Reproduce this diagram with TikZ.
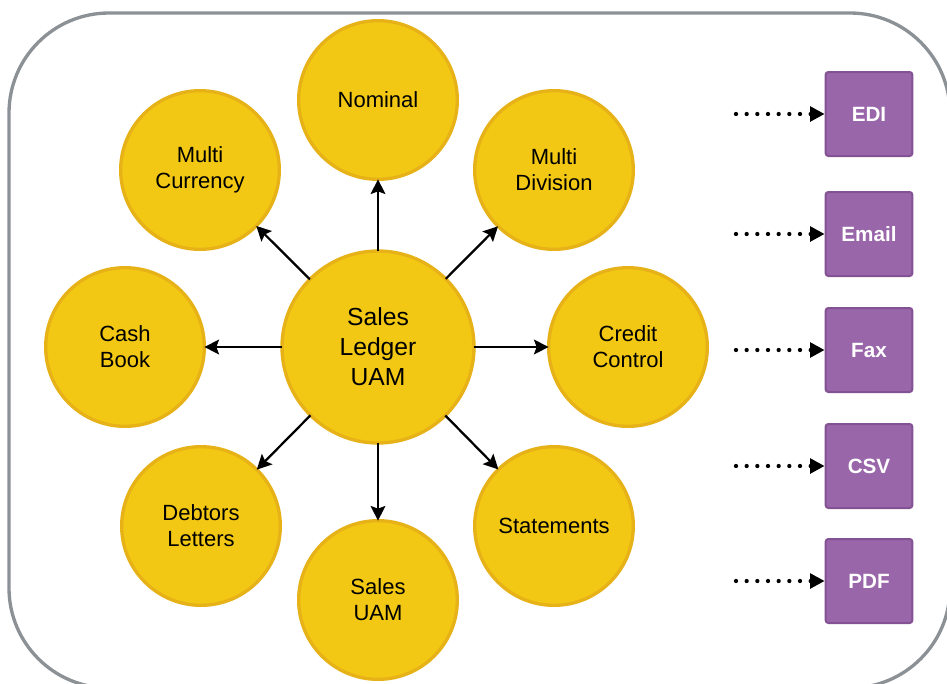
\documentclass[tikz,border=0pt]{standalone}
\usepackage{fontspec}
\setmainfont{Liberation Sans}
\usepackage{tikz}
\usetikzlibrary{arrows.meta,shapes,positioning}
\usepackage{xcolor}

\definecolor{gold}{RGB}{242,200,20}
\definecolor{goldrim}{RGB}{230,178,24}
\definecolor{plum}{RGB}{154,102,170}
\definecolor{plumrim}{RGB}{130,82,146}
\definecolor{frame}{RGB}{140,145,150}

\begin{document}
\begin{tikzpicture}[x=0.75pt, y=-0.75pt,
    hub/.style={circle, fill=gold, draw=goldrim, line width=2.5pt, minimum size=144pt, inner sep=0pt, outer sep=0pt, align=center, font=\fontsize{18.5}{22.5}\selectfont},
    module/.style={circle, fill=gold, draw=goldrim, line width=2.5pt, minimum size=119pt, inner sep=0pt, outer sep=0pt, align=center, font=\fontsize{16.5}{19.5}\selectfont},
    outbox/.style={draw=plumrim, line width=1.5pt, fill=plum, rounded corners=2pt, minimum width=65pt, minimum height=63pt, text=white, font=\fontsize{15.5}{18}\selectfont\bfseries},
    link/.style={-{Stealth[length=11pt, width=11pt, inset=2pt]}, line width=1.7pt},
    feed/.style={-{Triangle[length=11pt, width=11pt]}, line width=3.2pt, line cap=round, dash pattern=on 0pt off 8pt}]
    \clip (0,0) rectangle (947,683);

    % Frame
    \draw[frame, line width=2.5pt, rounded corners=75pt] (9,13) rectangle (950,688);

    % Hub
    \node[hub] (ledger) at (378,347) {Sales\\Ledger\\UAM};

    % Modules
    \node[module] (nominal) at (378,100) {Nominal};
    \node[module] (currency) at (200,170) {Multi\\Currency};
    \node[module] (division) at (554,170) {Multi\\Division};
    \node[module] (cash) at (125,347) {Cash\\Book};
    \node[module] (credit) at (628,347) {Credit\\Control};
    \node[module] (letters) at (201,526) {Debtors\\Letters};
    \node[module] (statements) at (554,526) {Statements};
    \node[module] (salesuam) at (378,600) {Sales\\UAM};

    % Arrows
    \draw[link] (ledger) -- (nominal);
    \draw[link] (ledger) -- (currency);
    \draw[link] (ledger) -- (division);
    \draw[link] (ledger) -- (cash);
    \draw[link] (ledger) -- (credit);
    \draw[link] (ledger) -- (letters);
    \draw[link] (ledger) -- (statements);
    \draw[link] (ledger) -- (salesuam);

    % Outputs
    \node[outbox] (edi) at (869,114) {EDI};
    \node[outbox] (email) at (869,234) {Email};
    \node[outbox] (fax) at (869,350) {Fax};
    \node[outbox] (csv) at (869,466) {CSV};
    \node[outbox] (pdf) at (869,581) {PDF};

    \coordinate (edi-in) at (736,114);
    \coordinate (email-in) at (736,234);
    \coordinate (fax-in) at (736,350);
    \coordinate (csv-in) at (736,466);
    \coordinate (pdf-in) at (736,581);

    \draw[feed] (edi-in) -- (edi);
    \draw[feed] (email-in) -- (email);
    \draw[feed] (fax-in) -- (fax);
    \draw[feed] (csv-in) -- (csv);
    \draw[feed] (pdf-in) -- (pdf);

\end{tikzpicture}
\end{document}
